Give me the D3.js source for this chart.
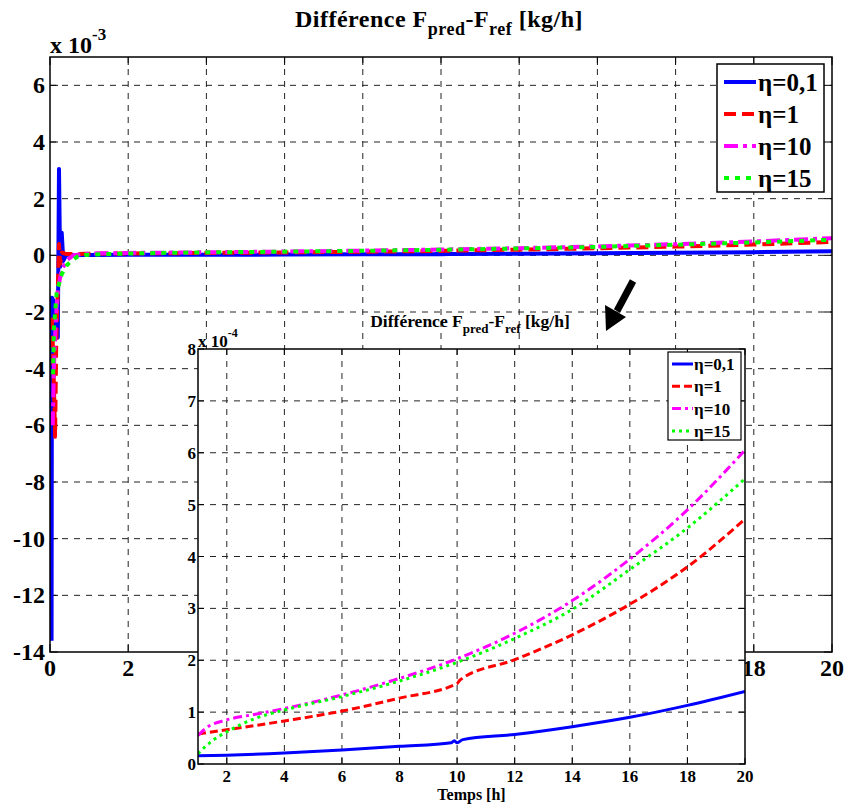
<!DOCTYPE html>
<html><head><meta charset="utf-8">
<script src="https://cdn.jsdelivr.net/npm/d3@7/dist/d3.min.js"></script>
<style>body{margin:0;background:#fff}svg{display:block}</style>
</head><body><svg id="c" width="846" height="805" font-family="'Liberation Serif', 'Times New Roman', Times, serif" font-weight="bold"></svg>
<script>
// ---- data (kg/h) ----
const xTicksMain = [0,2,4,6,8,10,12,14,16,18,20];
const yTicksMain = [-14,-12,-10,-8,-6,-4,-2,0,2,4,6];   // x 10^-3
const xTicksInset = [2,4,6,8,10,12,14,16,18,20];
const yTicksInset = [0,1,2,3,4,5,6,7,8];                // x 10^-4
const legendLabels = ["η=0,1","η=1","η=10","η=15"];
const colors = ["#0000ff","#ff0000","#ff00ff","#00ff00"];

// transient part (values x 10^-3)
const blueStart = [[0.04,-13.6],[0.05,-1.5],[0.09,-1.6],[0.13,-2.5],[0.2,-2.9],[0.23,3.05],[0.26,-0.4],[0.3,0.8],[0.34,-0.2],[0.42,0.03],[0.6,0.0],[0.9,0.014]];
const redStart  = [[0.05,-2.2],[0.09,-4.0],[0.13,-6.4],[0.16,-3.0],[0.2,-1.2],[0.23,0.4],[0.26,-0.3],[0.3,0.1],[0.4,0.05],[0.7,0.05],[0.9,0.056]];
const magStart  = [[0.07,-6.0],[0.1,-4.0],[0.15,-2.2],[0.2,-1.2],[0.3,-0.5],[0.45,-0.15],[0.6,0.0],[0.9,0.05]];
const grnStart  = [[0.08,-4.2],[0.1,-2.6],[0.17,-1.3],[0.3,-0.67],[0.43,-0.35],[0.56,-0.18],[0.7,-0.05],[0.9,0.015]];
// long-run part (values x 10^-4)
const blueLong = [[1,0.16],[2,0.17],[4,0.21],[6,0.27],[8,0.34],[9.8,0.41],[9.9,0.45],[10,0.41],[10.2,0.47],[12,0.57],[14,0.72],[16,0.9],[18,1.13],[20,1.4]];
const redLong  = [[1,0.58],[2,0.66],[4,0.83],[6,1.02],[8,1.27],[10,1.55],[10.1,1.62],[12,2.01],[14,2.49],[16,3.08],[18,3.8],[20,4.72]];
const magLong  = [[1,0.55],[1.3,0.7],[2,0.85],[3,0.96],[4,1.07],[6,1.33],[8,1.65],[10,2.03],[12,2.52],[14,3.15],[16,3.95],[18,4.9],[20,6.05]];
const grnLong  = [[1,0.2],[1.5,0.45],[2,0.62],[3,0.88],[4,1.04],[6,1.3],[8,1.6],[10,1.96],[12,2.42],[14,2.98],[16,3.75],[18,4.55],[20,5.5]];

const toKg = (arr, f) => arr.map(d => [d[0], d[1]*f]);
const series = [
  toKg(blueStart,1e-3).concat(toKg(blueLong,1e-4)),
  toKg(redStart,1e-3).concat(toKg(redLong,1e-4)),
  toKg(magStart,1e-3).concat(toKg(magLong,1e-4)),
  toKg(grnStart,1e-3).concat(toKg(grnLong,1e-4))
];
const longSeries = [toKg(blueLong,1e-4),toKg(redLong,1e-4),toKg(magLong,1e-4),toKg(grnLong,1e-4)];

const svg = d3.select("#c");
const dashMain = [null,"12,6","14,5,4,5","5,6"];
const dashIn = [null,"8,4","9,4,3,4","3,4"];

// ---- main chart ----
const M = {l:50,r:832,t:57,b:652};
const x = d3.scaleLinear().domain([0,20]).range([M.l,M.r]);
const y = d3.scaleLinear().domain([-14e-3,7e-3]).range([M.b,M.t]);
const gM = svg.append("g");
gM.append("defs").append("clipPath").attr("id","clipM").append("rect")
  .attr("x",M.l).attr("y",M.t).attr("width",M.r-M.l).attr("height",M.b-M.t);
gM.selectAll(".gx").data(xTicksMain.filter(v=>v>0&&v<20)).join("line")
  .attr("x1",d=>x(d)).attr("x2",d=>x(d)).attr("y1",M.t).attr("y2",M.b)
  .attr("stroke","#222").attr("stroke-width",1).attr("stroke-dasharray","6,6");
gM.selectAll(".gy").data(yTicksMain.filter(v=>v>-14)).join("line")
  .attr("y1",d=>y(d*1e-3)).attr("y2",d=>y(d*1e-3)).attr("x1",M.l).attr("x2",M.r)
  .attr("stroke","#222").attr("stroke-width",1).attr("stroke-dasharray","6,6");
const tkM = 8;
xTicksMain.forEach(v=>{
  gM.append("line").attr("x1",x(v)).attr("x2",x(v)).attr("y1",M.b).attr("y2",M.b-tkM).attr("stroke","#000");
  gM.append("line").attr("x1",x(v)).attr("x2",x(v)).attr("y1",M.t).attr("y2",M.t+tkM).attr("stroke","#000");
});
yTicksMain.forEach(v=>{
  gM.append("line").attr("y1",y(v*1e-3)).attr("y2",y(v*1e-3)).attr("x1",M.l).attr("x2",M.l+tkM).attr("stroke","#000");
  gM.append("line").attr("y1",y(v*1e-3)).attr("y2",y(v*1e-3)).attr("x1",M.r).attr("x2",M.r-tkM).attr("stroke","#000");
});
const lineM = d3.line().x(d=>x(d[0])).y(d=>y(d[1]));
const pl = gM.append("g").attr("clip-path","url(#clipM)");
series.forEach((s,i)=>{
  pl.append("path").datum(s).attr("d",lineM).attr("fill","none")
    .attr("stroke",colors[i]).attr("stroke-width",4)
    .attr("stroke-dasharray",dashMain[i]).attr("stroke-linejoin","round");
});
gM.append("rect").attr("x",M.l).attr("y",M.t).attr("width",M.r-M.l).attr("height",M.b-M.t)
  .attr("fill","none").attr("stroke","#000").attr("stroke-width",1.5);
gM.selectAll(".xl").data(xTicksMain).join("text").attr("x",d=>x(d)).attr("y",M.b+24)
  .attr("text-anchor","middle").attr("font-size",24).text(d=>d);
gM.selectAll(".yl").data(yTicksMain).join("text").attr("x",M.l-5).attr("y",d=>y(d*1e-3)+8)
  .attr("text-anchor","end").attr("font-size",24).text(d=>d);
const ex = gM.append("text").attr("x",M.l).attr("y",53).attr("font-size",24);
ex.append("tspan").text("x 10");
ex.append("tspan").attr("dy",-13).attr("font-size",17).text("-3");
const tt = gM.append("text").attr("x",439).attr("y",27).attr("text-anchor","middle").attr("font-size",24).attr("letter-spacing",0.5);
tt.append("tspan").text("Différence F");
tt.append("tspan").attr("dy",8).attr("font-size",18).text("pred");
tt.append("tspan").attr("dy",-8).text("-F");
tt.append("tspan").attr("dy",8).attr("font-size",18).text("ref");
tt.append("tspan").attr("dy",-8).text(" [kg/h]");
const L = {x:717,y:64,w:107,h:128};
gM.append("rect").attr("x",L.x).attr("y",L.y).attr("width",L.w).attr("height",L.h)
  .attr("fill","#fff").attr("stroke","#000").attr("stroke-width",1.5);
legendLabels.forEach((lab,i)=>{
  const yy = 82 + i*32;
  gM.append("line").attr("x1",724).attr("x2",756).attr("y1",yy).attr("y2",yy)
    .attr("stroke",colors[i]).attr("stroke-width",4).attr("stroke-dasharray",dashMain[i]);
  gM.append("text").attr("x",758).attr("y",yy+9).attr("font-size",25).text(lab);
});
const ag = svg.append("g");
ag.append("line").attr("x1",633).attr("y1",281).attr("x2",617).attr("y2",311)
  .attr("stroke","#000").attr("stroke-width",7);
ag.append("polygon").attr("points","606,331 605,305 626,317").attr("fill","#000");

// ---- inset ----
const I = {l:198,r:745,t:349,b:764};
const xi = d3.scaleLinear().domain([1,20]).range([I.l,I.r]);
const yi = d3.scaleLinear().domain([0,8e-4]).range([I.b,I.t]);
const gI = svg.append("g");
gI.append("defs").append("clipPath").attr("id","clipI").append("rect")
  .attr("x",I.l).attr("y",I.t-2).attr("width",I.r-I.l).attr("height",I.b-I.t+2);
gI.append("rect").attr("x",I.l).attr("y",I.t).attr("width",I.r-I.l).attr("height",I.b-I.t).attr("fill","#fff");
gI.selectAll(".gx").data(xTicksInset.filter(v=>v<20)).join("line")
  .attr("x1",d=>xi(d)).attr("x2",d=>xi(d)).attr("y1",I.t).attr("y2",I.b)
  .attr("stroke","#222").attr("stroke-width",1).attr("stroke-dasharray","6,6");
gI.selectAll(".gy").data(yTicksInset.filter(v=>v>0&&v<8)).join("line")
  .attr("y1",d=>yi(d*1e-4)).attr("y2",d=>yi(d*1e-4)).attr("x1",I.l).attr("x2",I.r)
  .attr("stroke","#222").attr("stroke-width",1).attr("stroke-dasharray","6,6");
const tkI = 6;
xTicksInset.forEach(v=>{
  gI.append("line").attr("x1",xi(v)).attr("x2",xi(v)).attr("y1",I.b).attr("y2",I.b-tkI).attr("stroke","#000");
  gI.append("line").attr("x1",xi(v)).attr("x2",xi(v)).attr("y1",I.t).attr("y2",I.t+tkI).attr("stroke","#000");
});
yTicksInset.forEach(v=>{
  gI.append("line").attr("y1",yi(v*1e-4)).attr("y2",yi(v*1e-4)).attr("x1",I.l).attr("x2",I.l+tkI).attr("stroke","#000");
  gI.append("line").attr("y1",yi(v*1e-4)).attr("y2",yi(v*1e-4)).attr("x1",I.r).attr("x2",I.r-tkI).attr("stroke","#000");
});
const lineI = d3.line().x(d=>xi(d[0])).y(d=>yi(d[1])).curve(d3.curveMonotoneX);
const pli = gI.append("g").attr("clip-path","url(#clipI)");
longSeries.forEach((s,i)=>{
  pli.append("path").datum(s).attr("d",lineI).attr("fill","none")
    .attr("stroke",colors[i]).attr("stroke-width",3)
    .attr("stroke-dasharray",dashIn[i]).attr("stroke-linejoin","round");
});
gI.append("rect").attr("x",I.l).attr("y",I.t).attr("width",I.r-I.l).attr("height",I.b-I.t)
  .attr("fill","none").attr("stroke","#000").attr("stroke-width",1.5);
gI.selectAll(".xl").data(xTicksInset).join("text").attr("x",d=>xi(d)).attr("y",I.b+18)
  .attr("text-anchor","middle").attr("font-size",17).text(d=>d);
gI.selectAll(".yl").data(yTicksInset).join("text").attr("x",I.l-2).attr("y",d=>yi(d*1e-4)+6)
  .attr("text-anchor","end").attr("font-size",17).text(d=>d);
gI.append("text").attr("x",(I.l+I.r)/2).attr("y",800).attr("text-anchor","middle").attr("font-size",16).text("Temps [h]");
const ei = gI.append("text").attr("x",I.l).attr("y",347).attr("font-size",17);
ei.append("tspan").text("x 10");
ei.append("tspan").attr("dy",-10).attr("font-size",12).text("-4");
const ti = gI.append("text").attr("x",470).attr("y",327).attr("text-anchor","middle").attr("font-size",17.5);
ti.append("tspan").text("Différence F");
ti.append("tspan").attr("dy",6).attr("font-size",13).text("pred");
ti.append("tspan").attr("dy",-6).text("-F");
ti.append("tspan").attr("dy",6).attr("font-size",13).text("ref");
ti.append("tspan").attr("dy",-6).text(" [kg/h]");
const LI = {x:668,y:352,w:73,h:88};
gI.append("rect").attr("x",LI.x).attr("y",LI.y).attr("width",LI.w).attr("height",LI.h)
  .attr("fill","#fff").attr("stroke","#000").attr("stroke-width",1.2);
legendLabels.forEach((lab,i)=>{
  const yy = 364 + i*22.3;
  gI.append("line").attr("x1",672).attr("x2",693).attr("y1",yy).attr("y2",yy)
    .attr("stroke",colors[i]).attr("stroke-width",3).attr("stroke-dasharray",dashIn[i]);
  gI.append("text").attr("x",694).attr("y",yy+6).attr("font-size",17).text(lab);
});
</script></body></html>
